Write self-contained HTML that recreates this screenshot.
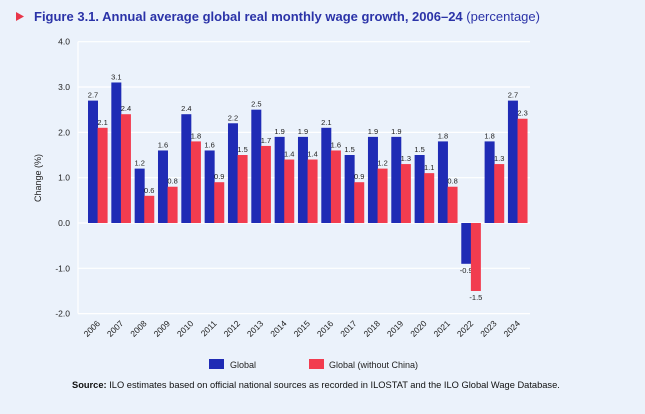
<!DOCTYPE html>
<html><head><meta charset="utf-8"><style>
body{margin:0;width:645px;height:409px;background:#ebf2fb;font-family:"Liberation Sans",sans-serif;overflow:hidden}
svg text{font-family:"Liberation Sans",sans-serif}
</style></head><body>
<svg id="c" width="645" height="409">
<polygon points="16,12 24,16.5 16,21" fill="#e8364a"/>
<text x="34" y="21" font-size="13" font-weight="bold" fill="#2b33a8">Figure 3.1.  Annual average global real monthly wage growth, 2006–24 <tspan font-weight="normal">(percentage)</tspan></text>
<text transform="translate(41,178) rotate(-90)" text-anchor="middle" font-size="9" fill="#222">Change (%)</text>
<g id="grid"></g><g id="bars"></g><g id="xl"></g>
<rect x="209" y="359" width="15" height="10" fill="#1f2bb5"/>
<text x="230" y="368" font-size="9" fill="#222">Global</text>
<rect x="309" y="359" width="15" height="10" fill="#f23c4f"/>
<text x="329" y="368" font-size="9" fill="#222">Global (without China)</text>
<text x="72" y="388" font-size="9.3" fill="#111"><tspan font-weight="bold">Source:</tspan>  ILO estimates based on official national sources as recorded in ILOSTAT and the ILO Global Wage Database.</text>
</svg>
<script>
const years=["2006","2007","2008","2009","2010","2011","2012","2013","2014","2015","2016","2017","2018","2019","2020","2021","2022","2023","2024"];
const globalVals=[2.7,3.1,1.2,1.6,2.4,1.6,2.2,2.5,1.9,1.9,2.1,1.5,1.9,1.9,1.5,1.8,-0.9,1.8,2.7];
const chinaVals=[2.1,2.4,0.6,0.8,1.8,0.9,1.5,1.7,1.4,1.4,1.6,0.9,1.2,1.3,1.1,0.8,-1.5,1.3,2.3];
const yTicks=[4,3,2,1,0,-1,-2];
const NS="http://www.w3.org/2000/svg";
const x0=78,step=23.33,bw=10,off=9.6;
const y=v=>223-v*45.33;
function mk(p,t,a){const e=document.createElementNS(NS,t);for(const k in a)e.setAttribute(k,a[k]);document.getElementById(p).appendChild(e);return e;}
yTicks.forEach(t=>{
 const l=mk('grid','line',{x1:x0,x2:530,y1:y(t),y2:y(t),stroke:'#fff','stroke-width':1.2});
 
 
 const tx=mk('grid','text',{x:70,y:y(t)+3,'text-anchor':'end','font-size':8.5,fill:'#222'});
 tx.textContent=t.toFixed(1);
 
 
});
const ax=mk('grid','line',{x1:x0,x2:x0,y1:y(4),y2:y(-2),stroke:'#fff','stroke-width':1.2});


years.forEach((yr,i)=>{
 const bx=88+i*step;
 [[globalVals[i],'#1f2bb5',bx,'bar-global-'+yr],[chinaVals[i],'#f23c4f',bx+off,'bar-china-'+yr]].forEach(([v,c,x,n])=>{
  const r=mk('bars','rect',{x:x,y:Math.min(y(v),y(0)),width:bw,height:Math.abs(y(v)-y(0)),fill:c});
  
  
  const t=mk('bars','text',{x:x+bw/2,y:v>=0?y(v)-3:y(v)+9,'text-anchor':'middle','font-size':7.5,fill:'#222'});
  t.textContent=v.toFixed(1);
  
  
 });
 const xt=mk('xl','text',{transform:`translate(${bx+off+3},${324}) rotate(-45)`,'text-anchor':'end','font-size':8.5,fill:'#222'});
 xt.textContent=yr;
 
 
});
</script>
</body></html>
